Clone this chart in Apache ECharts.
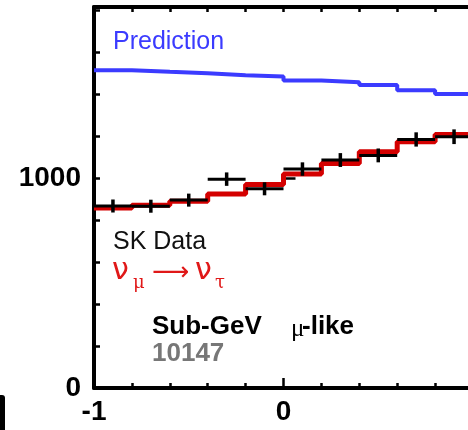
<!DOCTYPE html>
<html>
<head>
<meta charset="utf-8">
<script src="https://cdn.jsdelivr.net/npm/echarts@6/dist/echarts.min.js"></script>
<style>
html,body{margin:0;padding:0;background:#fff;}
#chart{width:468px;height:430px;}
</style>
</head>
<body>
<div id="chart"></div>
<script>
// Zenith angle bins (cos theta), lower edges, width 0.2
const binLow = [-1.0, -0.8, -0.6, -0.4, -0.2, 0.0, 0.2, 0.4, 0.6, 0.8];
const binWidth = 0.2;
// No-oscillation prediction (blue)
const prediction = [1514, 1506, 1499, 1490, 1484, 1465, 1457, 1443, 1418, 1401];
// nu_mu -> nu_tau oscillation best fit (red)
const oscillation = [857, 870, 890, 924, 970, 1019, 1070, 1125, 1173, 1208];
// SK data points and statistical errors
const skData = [867, 866, 895, 995, 949, 1043, 1086, 1108, 1184, 1197];
const skErr = [31, 31, 31, 32, 31, 32, 33, 33, 34, 35];
// Tick labels shown
const yTickLabels = [0, 1000];
const xTickLabels = [-1, 0];

function stairs(vals) {
  const pts = binLow.map((x, i) => [x, vals[i]]);
  pts.push([binLow[binLow.length - 1] + binWidth, vals[vals.length - 1]]);
  return pts;
}

const chart = echarts.init(document.getElementById('chart'), null, {renderer: 'canvas'});
const FONT = '"Liberation Sans", Arial, Helvetica, sans-serif';
const YMAX = 1815;

const option = {
  animation: false,
  backgroundColor: '#ffffff',
  grid: {left: 94, right: -5, top: 7, bottom: 42, containLabel: false, outerBoundsMode: 'none'},
  xAxis: [
    {
      type: 'value', min: -1, max: 1, interval: 1, position: 'bottom',
      axisLine: {show: true, onZero: false, lineStyle: {color: '#000', width: 4}},
      axisTick: {show: true, inside: true, length: 10, lineStyle: {color: '#000', width: 2.5}},
      minorTick: {show: true, splitNumber: 5, length: 5, lineStyle: {color: '#000', width: 2.5}},
      axisLabel: {
        show: true, margin: 10, color: '#000', fontFamily: FONT, fontWeight: 'bold', fontSize: 28,
        hideOverlap: false,
        formatter: v => (xTickLabels.indexOf(Math.round(v)) >= 0 && Math.abs(v - Math.round(v)) < 1e-6) ? String(Math.round(v)) : ''
      },
      splitLine: {show: false}
    },
    {
      type: 'value', min: -1, max: 1, interval: 0.2, position: 'top',
      axisLine: {show: true, onZero: false, lineStyle: {color: '#000', width: 4}},
      axisTick: {show: true, inside: true, length: 5, lineStyle: {color: '#000', width: 2.5}},
      axisLabel: {show: false},
      splitLine: {show: false}
    }
  ],
  yAxis: [
    {
      type: 'value', min: 0, max: YMAX, interval: 200, position: 'left',
      axisLine: {show: true, onZero: false, lineStyle: {color: '#000', width: 4}},
      axisTick: {show: true, inside: true, length: 6, lineStyle: {color: '#000', width: 2.5}},
      axisLabel: {
        show: true, margin: 13, color: '#000', fontFamily: FONT, fontWeight: 'bold', fontSize: 28,
        formatter: v => yTickLabels.indexOf(v) >= 0 ? String(v) : ''
      },
      splitLine: {show: false}
    },
    {
      type: 'value', min: 0, max: YMAX, interval: 1000, position: 'left',
      axisLine: {show: false},
      axisTick: {show: true, inside: true, length: 12, lineStyle: {color: '#000', width: 2.5}},
      axisLabel: {show: false},
      splitLine: {show: false}
    }
  ],
  series: [
    {
      name: 'Prediction', type: 'line', step: 'end', xAxisIndex: 0, yAxisIndex: 0,
      data: stairs(prediction), symbol: 'none', z: 2,
      lineStyle: {color: '#3b3bff', width: 4}
    },
    {
      name: 'numu-nutau', type: 'line', step: 'end', xAxisIndex: 0, yAxisIndex: 0,
      data: stairs(oscillation), symbol: 'none', z: 3,
      lineStyle: {color: '#d40000', width: 5}
    },
    {
      name: 'SK Data', type: 'custom', xAxisIndex: 0, yAxisIndex: 0, z: 4,
      data: binLow.map((x, i) => [x + binWidth / 2, skData[i], skErr[i]]),
      renderItem: function (params, api) {
        const x = api.value(0), y = api.value(1), e = api.value(2);
        const l = api.coord([x - binWidth / 2, y]);
        const r = api.coord([x + binWidth / 2, y]);
        const t = api.coord([x, y + e]);
        const b = api.coord([x, y - e]);
        const st = {stroke: '#000', lineWidth: 3};
        return {
          type: 'group',
          children: [
            {type: 'line', shape: {x1: l[0], y1: l[1], x2: r[0], y2: r[1]}, style: st},
            {type: 'line', shape: {x1: t[0], y1: t[1], x2: b[0], y2: b[1]}, style: {stroke: '#000', lineWidth: 3.5}}
          ]
        };
      }
    }
  ],
  graphic: [
    {type: 'text', x: 113, y: 42, style: {text: 'Prediction', font: '25px ' + FONT, fill: '#3b3bff', textVerticalAlign: 'middle', verticalAlign: 'middle'}},
    {type: 'text', x: 113, y: 242, style: {text: 'SK Data', font: '25px ' + FONT, fill: '#111', textVerticalAlign: 'middle', verticalAlign: 'middle'}},
    {type: 'text', x: 112, y: 271, style: {text: 'ν', font: '30px "DejaVu Sans", sans-serif', fill: '#e01818', textVerticalAlign: 'middle', verticalAlign: 'middle'}},
    {type: 'text', x: 133, y: 283, style: {text: 'μ', font: '18px "DejaVu Serif", serif', fill: '#e01818', textVerticalAlign: 'middle', verticalAlign: 'middle'}},
    {type: 'text', x: 152, y: 273, style: {text: '⟶', font: '26px "DejaVu Sans", sans-serif', fill: '#e01818', textVerticalAlign: 'middle', verticalAlign: 'middle'}},
    {type: 'text', x: 195, y: 271, style: {text: 'ν', font: '30px "DejaVu Sans", sans-serif', fill: '#e01818', textVerticalAlign: 'middle', verticalAlign: 'middle'}},
    {type: 'text', x: 215, y: 283, style: {text: 'τ', font: '18px "DejaVu Serif", serif', fill: '#e01818', textVerticalAlign: 'middle', verticalAlign: 'middle'}},
    {type: 'text', x: 152, y: 327, style: {text: 'Sub-GeV', font: 'bold 26px ' + FONT, fill: '#000', textVerticalAlign: 'middle', verticalAlign: 'middle'}},
    {type: 'text', x: 291, y: 329, style: {text: 'μ', font: '25px "Liberation Serif", serif', fill: '#000', textVerticalAlign: 'middle', verticalAlign: 'middle'}},
    {type: 'text', x: 302, y: 327, style: {text: '-like', font: 'bold 26px ' + FONT, fill: '#000', textVerticalAlign: 'middle', verticalAlign: 'middle'}},
    {type: 'text', x: 152, y: 354, style: {text: '10147', font: 'bold 26px ' + FONT, fill: '#777', textVerticalAlign: 'middle', verticalAlign: 'middle'}},
    {type: 'rect', shape: {x: 0, y: 395, width: 5, height: 35, r: [0, 3, 0, 0]}, style: {fill: '#000'}}
  ]
};
chart.setOption(option);
</script>
</body>
</html>
